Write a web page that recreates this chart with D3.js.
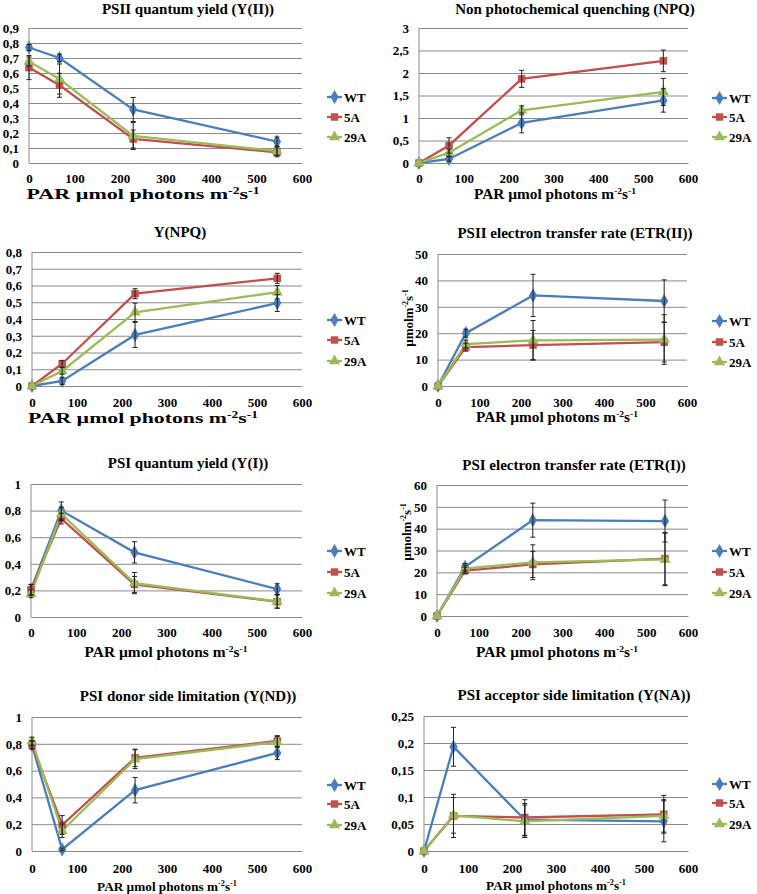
<!DOCTYPE html>
<html><head><meta charset="utf-8">
<script src="https://cdn.jsdelivr.net/npm/d3@7"></script>
<style>
body{margin:0;background:#fff;}
</style></head>
<body><svg id="c" width="757" height="894"></svg>
<script>
// ---------- DATA ----------
const PAR = [0, 67, 229, 545];
const seriesNames = ["WT", "5A", "29A"];
const xTicks = [0, 100, 200, 300, 400, 500, 600];

// PSII quantum yield Y(II)
const yII_WT = [0.77, 0.70, 0.357, 0.143],  yII_WT_err = [0.02, 0.025, 0.08, 0.03];
const yII_5A = [0.636, 0.518, 0.16, 0.071], yII_5A_err = [0.08, 0.08, 0.06, 0.03];
const yII_29A = [0.677, 0.56, 0.18, 0.08],  yII_29A_err = [0.03, 0.10, 0.09, 0.03];
const yII_ticks = [0, 0.1, 0.2, 0.3, 0.4, 0.5, 0.6, 0.7, 0.8, 0.9];

// NPQ
const npq_WT = [0, 0.09, 0.89, 1.39],  npq_WT_err = [0, 0.05, 0.22, 0.26];
const npq_5A = [0, 0.39, 1.87, 2.27],  npq_5A_err = [0, 0.17, 0.19, 0.24];
const npq_29A = [0, 0.23, 1.17, 1.58], npq_29A_err = [0, 0.08, 0.10, 0.30];
const npq_ticks = [0, 0.5, 1, 1.5, 2, 2.5, 3];

// Y(NPQ)
const yNPQ_WT = [0, 0.03, 0.305, 0.495],  yNPQ_WT_err = [0, 0.02, 0.075, 0.05];
const yNPQ_5A = [0, 0.133, 0.551, 0.643], yNPQ_5A_err = [0, 0.02, 0.03, 0.03];
const yNPQ_29A = [0, 0.09, 0.44, 0.56],   yNPQ_29A_err = [0, 0.02, 0.055, 0.04];
const yNPQ_ticks = [0, 0.1, 0.2, 0.3, 0.4, 0.5, 0.6, 0.7, 0.8];

// ETR(II)
const etrII_WT = [0, 20, 34.3, 32.2],    etrII_WT_err = [0, 1.5, 8, 8];
const etrII_5A = [0, 14.7, 15.5, 16.6],  etrII_5A_err = [0, 1.5, 5.5, 7.5];
const etrII_29A = [0, 15.9, 17.3, 17.6], etrII_29A_err = [0, 1.5, 7.5, 9.4];
const etrII_ticks = [0, 10, 20, 30, 40, 50];

// Y(I)
const yI_WT = [0.205, 0.80, 0.486, 0.21],   yI_WT_err = [0.04, 0.065, 0.08, 0.04];
const yI_5A = [0.205, 0.74, 0.245, 0.115],  yI_5A_err = [0.04, 0.04, 0.06, 0.05];
const yI_29A = [0.175, 0.775, 0.255, 0.118], yI_29A_err = [0.03, 0.05, 0.08, 0.05];
const yI_ticks = [0, 0.2, 0.4, 0.6, 0.8, 1];

// ETR(I)
const etrI_WT = [0, 22.5, 43.9, 43.5],   etrI_WT_err = [0, 1.5, 7.8, 9.6];
const etrI_5A = [0, 20.8, 23.6, 26.3],   etrI_5A_err = [0, 1.5, 6, 12];
const etrI_29A = [0, 21.7, 24.6, 25.9],  etrI_29A_err = [0, 1.5, 8, 12];
const etrI_ticks = [0, 10, 20, 30, 40, 50, 60];

// Y(ND)
const yND_WT = [0.79, 0.012, 0.454, 0.732],  yND_WT_err = [0.03, 0.01, 0.095, 0.05];
const yND_5A = [0.794, 0.194, 0.695, 0.821], yND_5A_err = [0.03, 0.07, 0.065, 0.04];
const yND_29A = [0.819, 0.151, 0.685, 0.814], yND_29A_err = [0.03, 0.05, 0.07, 0.04];
const yND_ticks = [0, 0.2, 0.4, 0.6, 0.8, 1];

// Y(NA)
const yNA_WT = [0, 0.193, 0.058, 0.055],  yNA_WT_err = [0, 0.036, 0.03, 0.038];
const yNA_5A = [0, 0.065, 0.062, 0.068],  yNA_5A_err = [0, 0.04, 0.033, 0.035];
const yNA_29A = [0, 0.066, 0.055, 0.065], yNA_29A_err = [0, 0.033, 0.03, 0.03];
const yNA_ticks = [0, 0.05, 0.1, 0.15, 0.2, 0.25];

const xTitle = "PAR µmol photons m";
const yUnit = "µmolm";

// ---------- STYLE / LAYOUT ----------
const FONT = "'Liberation Serif', 'Times New Roman', Times, serif";
const colors = {"WT": "#4A7EBB", "5A": "#C0504D", "29A": "#9BBB59"};
const shapes = {"WT": d3.symbolDiamond, "5A": d3.symbolSquare, "29A": d3.symbolTriangle};
const shapeSize = {"WT": 58, "5A": 56, "29A": 54};

const panels = [
  {title: "PSII quantum yield (Y(II))", vals: [yII_WT, yII_5A, yII_29A], errs: [yII_WT_err, yII_5A_err, yII_29A_err], ticks: yII_ticks,
   L: 29, R: 302, T: 28, B: 163, tx: 188, ty: 8.5, tickY: 178, xtX: 143, xtY: 194, xtW: 233, xtS: 15, lgX: 327, lgY: [97, 117, 137]},
  {title: "Non photochemical quenching (NPQ)", vals: [npq_WT, npq_5A, npq_29A], errs: [npq_WT_err, npq_5A_err, npq_29A_err], ticks: npq_ticks,
   L: 419, R: 688, T: 28, B: 163, tx: 575, ty: 8.5, tickY: 178, xtX: 555, xtY: 194, xtW: 162, xtS: 14, lgX: 712, lgY: [98, 117, 137]},
  {title: "Y(NPQ)", vals: [yNPQ_WT, yNPQ_5A, yNPQ_29A], errs: [yNPQ_WT_err, yNPQ_5A_err, yNPQ_29A_err], ticks: yNPQ_ticks,
   L: 32, R: 302, T: 252, B: 386, tx: 180, ty: 231.5, tickY: 402, xtX: 143, xtY: 418, xtW: 230, xtS: 15, lgX: 327, lgY: [320, 340, 361]},
  {title: "PSII electron transfer rate (ETR(II))", vals: [etrII_WT, etrII_5A, etrII_29A], errs: [etrII_WT_err, etrII_5A_err, etrII_29A_err], ticks: etrII_ticks,
   L: 438, R: 687, T: 254, B: 386, tx: 575, ty: 233, tickY: 402, xtX: 557, xtY: 417, xtW: 162, xtS: 14, lgX: 712, lgY: [321, 342, 362], yt: {x: 408, y: 318}},
  {title: "PSI quantum yield (Y(I))", vals: [yI_WT, yI_5A, yI_29A], errs: [yI_WT_err, yI_5A_err, yI_29A_err], ticks: yI_ticks,
   L: 31, R: 302, T: 484, B: 617, tx: 188, ty: 463, tickY: 632, xtX: 166, xtY: 652, xtW: 163, xtS: 14, lgX: 327, lgY: [551, 572, 593]},
  {title: "PSI electron transfer rate (ETR(I))", vals: [etrI_WT, etrI_5A, etrI_29A], errs: [etrI_WT_err, etrI_5A_err, etrI_29A_err], ticks: etrI_ticks,
   L: 437, R: 688, T: 485, B: 616, tx: 574, ty: 464.5, tickY: 632, xtX: 557, xtY: 652, xtW: 162, xtS: 14, lgX: 712, lgY: [551, 572, 593], yt: {x: 406, y: 532}},
  {title: "PSI donor side limitation (Y(ND))", vals: [yND_WT, yND_5A, yND_29A], errs: [yND_WT_err, yND_5A_err, yND_29A_err], ticks: yND_ticks,
   L: 32, R: 302, T: 717, B: 851, tx: 188, ty: 696, tickY: 868, xtX: 167, xtY: 886, xtW: 140, xtS: 13, lgX: 327, lgY: [785, 804, 825]},
  {title: "PSI acceptor side limitation (Y(NA))", vals: [yNA_WT, yNA_5A, yNA_29A], errs: [yNA_WT_err, yNA_5A_err, yNA_29A_err], ticks: yNA_ticks,
   L: 424, R: 688, T: 716, B: 851, tx: 574, ty: 695, tickY: 868, xtX: 556, xtY: 885, xtW: 140, xtS: 13, lgX: 712, lgY: [784, 803, 824]}
];

const svg = d3.select("#c").style("font-family", FONT);
const fmt = d3.formatLocale({decimal: ",", thousands: " ", grouping: [3], currency: ["", ""]}).format("~g");

function styleText(sel, size) {
  return sel.style("font-family", FONT).style("font-weight", "bold").style("font-size", size + "px").attr("fill", "#000");
}
function addUnitText(t, base, size) {
  const sh = 0.34 * size, sup = (0.62 * size) + "px";
  t.append("tspan").text(base);
  t.append("tspan").attr("dy", -sh).style("font-size", sup).text("-2");
  t.append("tspan").attr("dy", sh).text("s");
  t.append("tspan").attr("dy", -sh).style("font-size", sup).text("-1");
}

panels.forEach(p => {
  const g = svg.append("g");
  const x = d3.scaleLinear().domain([0, 600]).range([p.L, p.R]);
  const y = d3.scaleLinear().domain([0, d3.max(p.ticks)]).range([p.B, p.T]);

  // gridlines + y labels
  const yAxis = d3.axisLeft(y).tickValues(p.ticks).tickSize(-(p.R - p.L)).tickFormat(d => fmt(d)).tickPadding(10);
  const ya = g.append("g").attr("transform", `translate(${p.L},0)`).call(yAxis);
  ya.attr("font-family", null).attr("font-size", null);
  ya.select(".domain").remove();
  ya.selectAll(".tick line").attr("stroke", "#8a8a8a").attr("stroke-width", 1);
  styleText(ya.selectAll(".tick text"), 13).attr("dy", "0.33em");
  g.append("line").attr("x1", p.L).attr("x2", p.L).attr("y1", p.T).attr("y2", p.B).attr("stroke", "#8a8a8a");

  // x axis
  const xAxis = d3.axisBottom(x).tickValues(xTicks).tickSize(0).tickFormat(d => fmt(d)).tickPadding(0);
  const xa = g.append("g").attr("transform", `translate(0,${p.B})`).call(xAxis);
  xa.attr("font-family", null).attr("font-size", null);
  xa.select(".domain").attr("stroke", "#8a8a8a");
  styleText(xa.selectAll(".tick text"), 13).attr("y", p.tickY - p.B).attr("dy", "0.35em");

  // title
  styleText(g.append("text"), 15).attr("x", p.tx).attr("y", p.ty).attr("dy", "0.35em").attr("text-anchor", "middle").text(p.title);

  // x title (stretched horizontally like the reference)
  const xtg = g.append("g");
  const xt = styleText(xtg.append("text"), p.xtS).attr("x", 0).attr("y", 0.35 * p.xtS).attr("text-anchor", "middle");
  addUnitText(xt, xTitle, p.xtS);
  const w = xt.node().getComputedTextLength() || p.xtW;
  xtg.attr("transform", `translate(${p.xtX},${p.xtY}) scale(${p.xtW / w},1)`);

  // y title
  if (p.yt) {
    const yt = styleText(g.append("text"), 13).attr("transform", `translate(${p.yt.x},${p.yt.y}) rotate(-90)`)
      .attr("y", 0.35 * 13).attr("text-anchor", "middle");
    addUnitText(yt, yUnit, 13);
  }

  // series lines
  seriesNames.forEach((name, si) => {
    const pts = PAR.map((px, i) => ({x: px, y: p.vals[si][i]}));
    g.append("path").datum(pts)
      .attr("d", d3.line().x(d => x(d.x)).y(d => y(d.y)))
      .attr("fill", "none").attr("stroke", colors[name]).attr("stroke-width", 2.3);
  });
  // markers
  seriesNames.forEach((name, si) => {
    const pts = PAR.map((px, i) => ({x: px, y: p.vals[si][i]}));
    g.selectAll(null).data(pts).join("path")
      .attr("transform", d => `translate(${x(d.x)},${y(d.y)})`)
      .attr("d", d3.symbol().type(shapes[name]).size(shapeSize[name]))
      .attr("fill", colors[name]);
  });
  // error bars
  seriesNames.forEach((name, si) => {
    const pts = PAR.map((px, i) => ({x: px, y: p.vals[si][i], e: p.errs[si][i]})).filter(d => d.e > 0);
    const eb = g.selectAll(null).data(pts).join("g").attr("stroke", "#222").attr("stroke-width", 1);
    eb.append("line").attr("x1", d => x(d.x)).attr("x2", d => x(d.x))
      .attr("y1", d => y(d.y - d.e)).attr("y2", d => y(d.y + d.e));
    eb.append("line").attr("x1", d => x(d.x) - 2.5).attr("x2", d => x(d.x) + 2.5)
      .attr("y1", d => y(d.y - d.e)).attr("y2", d => y(d.y - d.e));
    eb.append("line").attr("x1", d => x(d.x) - 2.5).attr("x2", d => x(d.x) + 2.5)
      .attr("y1", d => y(d.y + d.e)).attr("y2", d => y(d.y + d.e));
  });

  // legend
  seriesNames.forEach((name, si) => {
    const ly = p.lgY[si];
    g.append("line").attr("x1", p.lgX).attr("x2", p.lgX + 15).attr("y1", ly).attr("y2", ly)
      .attr("stroke", colors[name]).attr("stroke-width", 2.3);
    g.append("path").attr("transform", `translate(${p.lgX + 7.5},${ly})`)
      .attr("d", d3.symbol().type(shapes[name]).size(shapeSize[name])).attr("fill", colors[name]);
    styleText(g.append("text"), 13).attr("x", p.lgX + 17).attr("y", ly).attr("dy", "0.35em").text(name);
  });
});
</script></body></html>
